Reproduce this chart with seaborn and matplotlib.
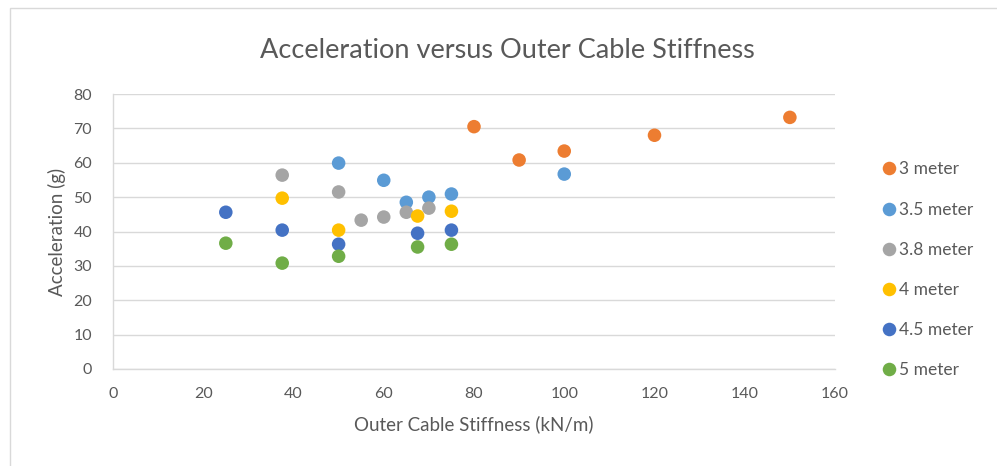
import matplotlib
matplotlib.use("Agg")
import matplotlib.pyplot as plt
from matplotlib.patches import Rectangle
import seaborn as sns
import pandas as pd

# Outer cable stiffness (kN/m) and acceleration (g) for each cable length
series_names = ["3 meter", "3.5 meter", "3.8 meter", "4 meter", "4.5 meter", "5 meter"]
stiff_3m = [80, 90, 100, 120, 150]
acc_3m = [70.5, 60.8, 63.4, 68.0, 73.2]
stiff_35m = [50, 60, 65, 70, 75, 100]
acc_35m = [59.9, 54.9, 48.5, 50.0, 50.9, 56.7]
stiff_38m = [37.5, 50, 55, 60, 65, 70]
acc_38m = [56.4, 51.5, 43.3, 44.2, 45.6, 46.8]
stiff_4m = [37.5, 50, 67.5, 75]
acc_4m = [49.7, 40.4, 44.5, 45.9]
stiff_45m = [25, 37.5, 50, 67.5, 75]
acc_45m = [45.6, 40.4, 36.3, 39.5, 40.4]
stiff_5m = [25, 37.5, 50, 67.5, 75]
acc_5m = [36.6, 30.8, 32.8, 35.5, 36.3]

x_ticks = [0, 20, 40, 60, 80, 100, 120, 140, 160]
y_ticks = [0, 10, 20, 30, 40, 50, 60, 70, 80]
colors = ["#ED7D31", "#5B9BD5", "#A5A5A5", "#FFC000", "#4472C4", "#70AD47"]

frames = []
for name, xs, ys in zip(series_names,
                        [stiff_3m, stiff_35m, stiff_38m, stiff_4m, stiff_45m, stiff_5m],
                        [acc_3m, acc_35m, acc_38m, acc_4m, acc_45m, acc_5m]):
    frames.append(pd.DataFrame({"stiffness": xs, "acceleration": ys, "series": name}))
df = pd.concat(frames, ignore_index=True)

sns.set_style("white")
plt.rcParams["font.family"] = ["Lato", "DejaVu Sans"]
text_color = "#595959"

fig = plt.figure(figsize=(9.97, 4.66), dpi=100)
ax = fig.add_axes([113 / 997, 1 - 369 / 466, (835 - 113) / 997, (369 - 94) / 466])

sns.scatterplot(data=df, x="stiffness", y="acceleration", hue="series",
                hue_order=series_names, palette=colors, s=95, edgecolor="none",
                ax=ax, zorder=3, legend=True)

ax.set_xlim(0, 160)
ax.set_ylim(0, 80)
ax.set_xticks(x_ticks)
ax.set_yticks(y_ticks)
ax.tick_params(axis="both", length=0, labelsize=11.5, labelcolor=text_color)
ax.tick_params(axis="x", pad=13)
ax.tick_params(axis="y", pad=15)
ax.yaxis.grid(True, color="#D9D9D9", linewidth=1)
ax.xaxis.grid(False)
for side in ["top", "right"]:
    ax.spines[side].set_visible(False)
for side in ["left", "bottom"]:
    ax.spines[side].set_color("#D9D9D9")
    ax.spines[side].set_linewidth(1)

ax.set_xlabel("Outer Cable Stiffness (kN/m)", fontsize=13.5, color=text_color, labelpad=10)
ax.set_ylabel("Acceleration (g)", fontsize=13.5, color=text_color, labelpad=5)

fig.text(507 / 997, 1 - 50 / 466, "Acceleration versus Outer Cable Stiffness",
         ha="center", va="center", fontsize=19.5, color=text_color)

handles, labels = ax.get_legend_handles_labels()
leg = ax.legend(handles, labels, loc="upper left", bbox_to_anchor=(1.055, 0.78),
                frameon=False, fontsize=12.5, labelspacing=1.39, handletextpad=0.1,
                handlelength=0.9, borderaxespad=0)
for t in leg.get_texts():
    t.set_color(text_color)

# chart-area frame; its right and bottom edges fall outside the canvas
fig.patches.append(Rectangle((10 / 997, -0.05), 1.05, 1.05 - 8 / 466,
                             transform=fig.transFigure, fill=False,
                             edgecolor="#D9D9D9", linewidth=1))

fig.savefig("out.png", dpi=100, facecolor="white")
